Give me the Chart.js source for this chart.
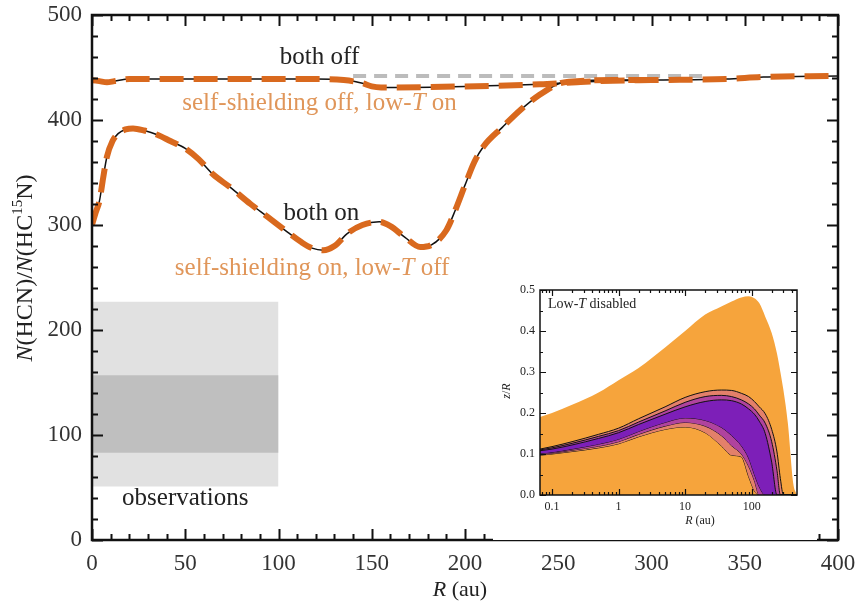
<!DOCTYPE html>
<html>
<head>
<meta charset="utf-8">
<script src="https://cdn.jsdelivr.net/npm/chart.js@4.4.1/dist/chart.umd.min.js"></script>
<style>
  html, body { margin: 0; padding: 0; background: #fff; }
  #wrap { position: relative; width: 861px; height: 603px; }
  #main { position: absolute; left: 0; top: 0; }
  #inset { position: absolute; left: 493px; top: 283px; background: #fff; }
</style>
</head>
<body>
<div id="wrap">
  <canvas id="main" width="861" height="603"></canvas>
  <canvas id="inset" width="324" height="257"></canvas>
</div>
<script>
const serif = "'Liberation Serif', 'DejaVu Serif', serif";

// main panel: column density ratio vs radius
const rOn = [0, 2, 4, 6, 8, 11, 14, 18, 22, 28, 35, 42, 50, 57, 65, 74, 85, 94, 105, 112, 118, 124, 130, 137, 145, 154, 160, 168, 176, 182, 190, 195, 200, 205, 210, 220, 230, 240, 251, 260, 280, 300];
const ratioOn = [300, 312, 323, 345, 365, 380, 387, 391, 392, 390, 386, 380, 373, 363, 348, 336, 320, 308, 293, 284, 278, 276, 280, 292, 300, 303, 299, 288, 279, 281, 295, 315, 338, 360, 375, 393, 410, 424, 435, 437, 438, 438];

const rOff = [0, 4, 8, 12, 20, 40, 80, 120, 135, 145, 150, 155, 160, 200, 240, 260, 272, 300, 340, 360, 400];
const ratioOff = [438, 437, 436, 437, 439, 439, 439, 439, 438, 435, 432, 431, 431, 432, 434, 436, 437, 438, 439, 441, 442];

const rGray = [140, 330];
const ratioGray = [442, 442];

// observed ranges (R <= 100 au)
const obsR = [0, 100];
const obsOuter = [51, 227];
const obsInner = [83, 157];

const labels = [
  { text: "both off", x: 122, y: 460, color: "#222" },
  { text: "self-shielding off, low-", it: "T", tail: " on", x: 122, y: 416, color: "#e0965a" },
  { text: "both on", x: 123, y: 311, color: "#222" },
  { text: "self-shielding on, low-", it: "T", tail: " off", x: 118, y: 259, color: "#e0965a" },
  { text: "observations", x: 50, y: 40, color: "#222" }
];

const pts = (xs, ys) => xs.map((x, i) => ({ x: x, y: ys[i] }));
const orange = "#d9691e";

function drawTicks(ctx, a, xs, ys, w) {
  ctx.save();
  ctx.strokeStyle = "#111";
  ctx.lineWidth = w;
  ctx.beginPath();
  xs.forEach(t => {
    const px = Math.round(t.p) + 0.5;
    ctx.moveTo(px, a.bottom); ctx.lineTo(px, a.bottom - t.l);
    ctx.moveTo(px, a.top); ctx.lineTo(px, a.top + t.l);
  });
  ys.forEach(t => {
    const py = Math.round(t.p) + 0.5;
    ctx.moveTo(a.left, py); ctx.lineTo(a.left + t.l, py);
    ctx.moveTo(a.right, py); ctx.lineTo(a.right - t.l, py);
  });
  ctx.stroke();
  ctx.restore();
}

function drawRich(ctx, parts, cx, cy) {
  // parts: [text, font, dy]
  let total = 0;
  parts.forEach(p => { ctx.font = p[1]; total += ctx.measureText(p[0]).width; });
  let x = cx - total / 2;
  parts.forEach(p => {
    ctx.font = p[1];
    ctx.fillText(p[0], x, cy + (p[2] || 0));
    x += ctx.measureText(p[0]).width;
  });
}

// keep the plot box where the figure has it, whatever the label overflow
function noPad(s) { s.paddingTop = 0; s.paddingBottom = 0; s.paddingLeft = 0; s.paddingRight = 0; }

const mainFrame = {
  id: "mainFrame",
  afterDatasetsDraw(chart) {
    const ctx = chart.ctx, a = chart.chartArea;
    const sx = chart.scales.x, sy = chart.scales.y;
    const xt = [], yt = [];
    for (let v = 0; v <= 400; v += 10) xt.push({ p: sx.getPixelForValue(v), l: v % 50 === 0 ? 11 : 6 });
    for (let v = 0; v <= 500; v += 20) yt.push({ p: sy.getPixelForValue(v), l: v % 100 === 0 ? 11 : 6 });
    drawTicks(ctx, a, xt, yt, 2);
    ctx.save();
    ctx.strokeStyle = "#111";
    ctx.lineWidth = 2.5;
    ctx.strokeRect(a.left, a.top, a.right - a.left, a.bottom - a.top);
    ctx.restore();

    ctx.save();
    ctx.textBaseline = "middle";
    labels.forEach(l => {
      ctx.fillStyle = l.color;
      const parts = [[l.text, "25px " + serif]];
      if (l.it) { parts.push([l.it, "italic 25px " + serif]); parts.push([l.tail, "25px " + serif]); }
      drawRich(ctx, parts, sx.getPixelForValue(l.x), sy.getPixelForValue(l.y));
    });
    ctx.restore();

    // axis titles
    ctx.save();
    ctx.fillStyle = "#222";
    ctx.textBaseline = "middle";
    drawRich(ctx, [["R", "italic 22px " + serif], [" (au)", "22px " + serif]], 460, 590);
    ctx.translate(26, 268);
    ctx.rotate(-Math.PI / 2);
    drawRich(ctx, [
      ["N", "italic 24px " + serif], ["(HCN)/", "24px " + serif],
      ["N", "italic 24px " + serif], ["(HC", "24px " + serif],
      ["15", "15px " + serif, -8], ["N)", "24px " + serif]
    ], 0, 0);
    ctx.restore();
  }
};

new Chart(document.getElementById("main"), {
  type: "scatter",
  data: {
    datasets: [
      { data: pts(rOff, ratioOff), showLine: true, borderColor: orange, borderWidth: 6, borderDash: [24, 10], pointRadius: 0, cubicInterpolationMode: "monotone", order: 1 },
      { data: pts(rOn, ratioOn), showLine: true, borderColor: orange, borderWidth: 6, borderDash: [24, 10], pointRadius: 0, cubicInterpolationMode: "monotone", order: 1 },
      { data: pts(rOff, ratioOff), showLine: true, borderColor: "#111", borderWidth: 1.5, pointRadius: 0, cubicInterpolationMode: "monotone", order: 2 },
      { data: pts(rOn, ratioOn), showLine: true, borderColor: "#111", borderWidth: 1.5, pointRadius: 0, cubicInterpolationMode: "monotone", order: 2 },
      { data: pts(rGray, ratioGray), showLine: true, borderColor: "#bcbcbc", borderWidth: 4, borderDash: [13, 8], pointRadius: 0, order: 3 },
      { data: pts(obsR, [obsInner[1], obsInner[1]]), showLine: true, borderWidth: 0, pointRadius: 0, fill: { value: obsInner[0] }, backgroundColor: "#bfbfbf", order: 4 },
      { data: pts(obsR, [obsOuter[1], obsOuter[1]]), showLine: true, borderWidth: 0, pointRadius: 0, fill: { value: obsOuter[0] }, backgroundColor: "#e1e1e1", order: 5 }
    ]
  },
  options: {
    responsive: false,
    animation: false,
    layout: { padding: { top: 15, right: 23 } },
    plugins: { legend: { display: false }, tooltip: { enabled: false } },
    scales: {
      x: {
        type: "linear", min: 0, max: 400,
        ticks: { stepSize: 50, color: "#333", font: { family: serif, size: 23 }, padding: 10, maxRotation: 0 },
        grid: { display: false, drawTicks: false }, border: { display: false },
        afterFit(s) { s.height = 63; noPad(s); }
      },
      y: {
        min: 0, max: 500,
        ticks: { stepSize: 100, color: "#333", font: { family: serif, size: 23 }, padding: 10 },
        grid: { display: false, drawTicks: false }, border: { display: false },
        afterFit(s) { s.width = 92; noPad(s); }
      }
    }
  },
  plugins: [mainFrame]
});

// inset: z/R vs R contour map (low-T disabled)
const insetR = [0.066, 0.1, 0.2, 0.5, 1, 2, 5, 10, 20, 35, 50, 70, 90, 110, 130, 160, 200, 240, 270, 300, 350, 420, 480];
const envTop = [0.19, 0.2, 0.22, 0.25, 0.28, 0.31, 0.36, 0.40, 0.44, 0.46, 0.472, 0.482, 0.485, 0.48, 0.468, 0.435, 0.395, 0.345, 0.30, 0.256, 0.175, 0.03, 0];
const outerTop = [0.112, 0.118, 0.13, 0.148, 0.163, 0.186, 0.215, 0.238, 0.252, 0.256, 0.255, 0.248, 0.24, 0.228, 0.215, 0.198, 0.16, 0.105, 0.04, 0, 0, 0, 0];
const outerBot = [0.097, 0.1, 0.106, 0.115, 0.125, 0.142, 0.16, 0.166, 0.152, 0.12, 0.097, 0.093, 0.045, 0.01, 0, 0, 0, 0, 0, 0, 0, 0, 0];
const midTop = [0.11, 0.115, 0.126, 0.143, 0.157, 0.178, 0.205, 0.226, 0.24, 0.243, 0.24, 0.232, 0.222, 0.21, 0.195, 0.175, 0.13, 0.06, 0, 0, 0, 0, 0];
const midBot = [0.099, 0.102, 0.109, 0.119, 0.13, 0.148, 0.168, 0.177, 0.168, 0.145, 0.12, 0.1, 0.07, 0.035, 0, 0, 0, 0, 0, 0, 0, 0, 0];
const coreTop = [0.108, 0.112, 0.122, 0.138, 0.152, 0.172, 0.197, 0.215, 0.228, 0.232, 0.23, 0.222, 0.21, 0.197, 0.18, 0.15, 0.08, 0, 0, 0, 0, 0, 0];
const coreBot = [0.101, 0.104, 0.112, 0.124, 0.136, 0.155, 0.177, 0.188, 0.182, 0.165, 0.145, 0.12, 0.09, 0.05, 0.02, 0, 0, 0, 0, 0, 0, 0, 0];
const insetXTicks = [0.1, 1, 10, 100];
const insetYTicks = [0, 0.1, 0.2, 0.3, 0.4, 0.5];

const insetFrame = {
  id: "insetFrame",
  afterDatasetsDraw(chart) {
    const ctx = chart.ctx, a = chart.chartArea;
    const sx = chart.scales.x, sy = chart.scales.y;
    const xt = [], yt = [];
    for (let d = -2; d <= 2; d++) {
      for (let m = 1; m <= 9; m++) {
        const v = m * Math.pow(10, d);
        if (v < sx.min || v > sx.max) continue;
        xt.push({ p: sx.getPixelForValue(v), l: m === 1 ? 6 : 3 });
      }
    }
    for (let v = 0; v <= 0.5001; v += 0.05) yt.push({ p: sy.getPixelForValue(v), l: Math.round(v * 100) % 10 === 0 ? 6 : 3 });
    drawTicks(ctx, a, xt, yt, 1.2);
    ctx.save();
    ctx.strokeStyle = "#111";
    ctx.lineWidth = 1.5;
    ctx.strokeRect(a.left, a.top, a.right - a.left, a.bottom - a.top);
    ctx.fillStyle = "#222";
    ctx.textBaseline = "middle";
    ctx.textAlign = "left";
    ctx.font = "14px " + serif;
    let x = a.left + 8;
    ctx.fillText("Low-", x, a.top + 14); x += ctx.measureText("Low-").width;
    ctx.font = "italic 14px " + serif;
    ctx.fillText("T", x, a.top + 14); x += ctx.measureText("T").width;
    ctx.font = "14px " + serif;
    ctx.fillText(" disabled", x, a.top + 14);
    drawRich(ctx, [["R", "italic 12px " + serif], [" (au)", "12px " + serif]], 207, 238);
    ctx.translate(14, 108);
    ctx.rotate(-Math.PI / 2);
    drawRich(ctx, [["z", "italic 12px " + serif], ["/", "12px " + serif], ["R", "italic 12px " + serif]], 0, 0);
    ctx.restore();
  }
};

const band = (ys, extra) => Object.assign({ data: pts(insetR, ys), showLine: true, pointRadius: 0, borderColor: "#111", borderWidth: 1, cubicInterpolationMode: "monotone" }, extra);

new Chart(document.getElementById("inset"), {
  type: "scatter",
  data: {
    datasets: [
      band(coreTop, { fill: "+1", backgroundColor: "#7d1fb8", order: 1 }),
      band(coreBot, { order: 1 }),
      band(midTop, { fill: "+1", backgroundColor: "#b0439e", order: 2 }),
      band(midBot, { order: 2 }),
      band(outerTop, { fill: "+1", backgroundColor: "#e3806a", order: 3 }),
      band(outerBot, { order: 3 }),
      band(envTop, { fill: "origin", backgroundColor: "#f6a43c", borderWidth: 0, order: 4 })
    ]
  },
  options: {
    responsive: false,
    animation: false,
    layout: { padding: { top: 7, right: 20 } },
    plugins: { legend: { display: false }, tooltip: { enabled: false } },
    scales: {
      x: {
        type: "logarithmic", min: 0.066, max: 480,
        afterBuildTicks(s) { s.ticks = insetXTicks.map(v => ({ value: v })); },
        ticks: { color: "#222", font: { family: serif, size: 12 }, padding: 5, maxRotation: 0, callback: v => String(v) },
        grid: { display: false, drawTicks: false }, border: { display: false },
        afterFit(s) { s.height = 45; noPad(s); }
      },
      y: {
        min: 0, max: 0.5,
        afterBuildTicks(s) { s.ticks = insetYTicks.map(v => ({ value: v })); },
        ticks: { color: "#222", font: { family: serif, size: 12 }, padding: 5, callback: v => v.toFixed(1) },
        grid: { display: false, drawTicks: false }, border: { display: false },
        afterFit(s) { s.width = 47; noPad(s); }
      }
    }
  },
  plugins: [insetFrame]
});
</script>
</body>
</html>
